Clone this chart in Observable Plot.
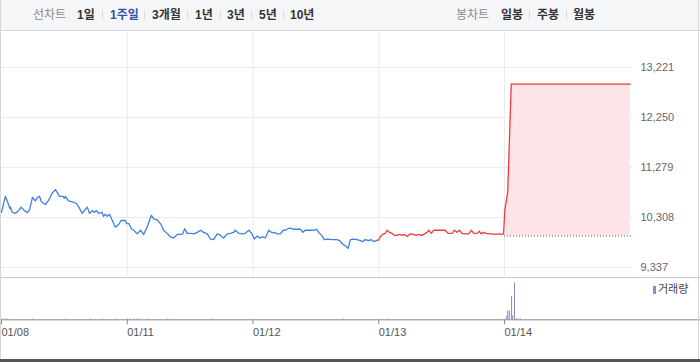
<!DOCTYPE html>
<html><head><meta charset="utf-8">
<script src="https://cdn.jsdelivr.net/npm/d3@7"></script>
<script src="https://cdn.jsdelivr.net/npm/@observablehq/plot@0.6"></script>
<style>
html,body{margin:0;padding:0;background:#fff;}
#wrap{position:relative;width:700px;height:362px;overflow:hidden;font-family:"Liberation Sans","Noto Sans CJK KR",sans-serif;}
#wrap svg{position:absolute;left:0;}
#topbar{position:absolute;left:0;top:0;width:700px;height:30px;background:#f5f6f8;border-bottom:1px solid #d9dbdf;z-index:2;}
.tb{position:absolute;top:8px;font-size:12px;line-height:14px;white-space:nowrap;color:#333;font-weight:bold;}
.tb.g{color:#8a8a8a;font-weight:normal;}
.tb.on{color:#2c4fb0;}
.sep{position:absolute;top:10px;width:1px;height:10px;background:#dcdcdc;}
#legend{position:absolute;left:653px;top:283px;font-size:11px;color:#444;line-height:13px;white-space:nowrap;z-index:3;}
#legend i{display:inline-block;width:3px;height:8px;background:#9a86d0;margin-right:2px;vertical-align:-1px;}
.edge{position:absolute;background:#d6d6d6;z-index:4;}
</style></head>
<body><div id="wrap"></div>
<script>
// ---- data ----
const days = ["01/08", "01/11", "01/12", "01/13", "01/14"];
const yTicks = [9337, 10308, 11279, 12250, 13221];
const prevClose = 9950;
const lineChartLabels = ["1일", "1주일", "3개월", "1년", "3년", "5년", "10년"];
const candleChartLabels = ["일봉", "주봉", "월봉"];
// [minutes after 09:00, price]
const d0108 = [[0,10410],[12,10720],[19,10610],[26,10480],[28,10510],[33,10410],[43,10390],[53,10440],[61,10510],[68,10460],[80,10400],[87,10460],[96,10700],[105,10630],[112,10700],[118,10720],[124,10610],[136,10560],[146,10640],[157,10780],[167,10850],[174,10780],[180,10720],[191,10720],[195,10680],[198,10720],[208,10630],[219,10610],[233,10580],[239,10520],[250,10390],[257,10440],[266,10510],[273,10390],[282,10440],[288,10410],[294,10440],[302,10390],[312,10410],[316,10330],[322,10370],[328,10330],[335,10370],[341,10290],[353,10120],[363,10170],[371,10250],[384,10250],[389,10190]];
const d0111 = [[5,10190],[13,10090],[20,10060],[31,9990],[41,10060],[51,9980],[62,10130],[69,10250],[75,10350],[82,10280],[93,10260],[103,10190],[113,10060],[127,9980],[134,9930],[144,9910],[155,9980],[165,9980],[172,9990],[178,10090],[186,10000],[196,10000],[206,9990],[217,10020],[227,10060],[237,10020],[248,9990],[258,9890],[268,9880],[279,9990],[289,9960],[299,9910],[310,9990],[320,10000],[330,10020],[335,10060],[346,10000],[356,9990],[366,10000],[377,10060],[387,9990]];
const d0112 = [[4,9890],[13,9950],[21,9910],[31,9930],[38,9910],[49,10060],[59,10010],[66,10020],[75,9990],[85,9990],[93,10060],[100,10060],[108,10090],[116,10100],[124,10080],[137,10080],[147,10080],[155,10020],[162,10060],[178,10060],[188,10060],[197,10080],[204,10020],[214,9950],[221,9880],[232,9890],[245,9880],[261,9880],[269,9860],[276,9800],[286,9760],[295,9710],[302,9880],[312,9890],[323,9880],[333,9860],[341,9840],[348,9880],[359,9860],[366,9880],[374,9840],[382,9860],[387,9870]];
const d0113 = [[0,9870],[5,9940],[12,9980],[20,10000],[26,10060],[33,10020],[41,10000],[49,9960],[57,9960],[64,9980],[72,9960],[80,9980],[88,9940],[98,9990],[108,9980],[116,9960],[124,9980],[134,9960],[142,9990],[150,10020],[155,10060],[163,10000],[170,10060],[186,10060],[206,10060],[215,10000],[227,10000],[235,10060],[243,10020],[250,10060],[258,10000],[268,9990],[279,9990],[287,10060],[295,10000],[305,10000],[312,10040],[318,9990],[325,10020],[333,10000],[341,9990],[351,9990],[361,9980],[374,9990],[382,9980],[387,9990]];
const d0114 = [[1,10450],[10,10800],[21,12900],[390,12900]];
// volume: [day index, minutes after 09:00, volume]
const volumes = [[0,3,30],[0,10,30],[0,18,30],[0,96,30],[0,198,30],[0,276,30],[0,313,30],[0,353,30],
  [1,1,30],[1,10,30],[1,20,30],[1,30,30],[1,40,30],[1,63,30],[1,125,30],[1,143,30],[1,258,30],[1,267,30],
  [2,280,30],[3,30,30],
  [4,6,120],[4,10,360],[4,15,360],[4,22,960],[4,25,160],[4,31,1500],[4,37,40],[4,42,40],[4,49,40]];

// ---- build ----
const toRows = (arr, di) => arr.map(([m, p]) => ({x: di + m / 390, p}));
const blueRows = [...toRows(d0108, 0), ...toRows(d0111, 1), ...toRows(d0112, 2)];
const day14Rows = toRows(d0114, 4);
const redRows = [blueRows[blueRows.length - 1], ...toRows(d0113, 3), ...day14Rows];
const volRows = volumes.map(([d, m, v]) => ({x: d + m / 390, v}));
const BLUE = "#3f7fe3", RED = "#f23a3f", PURPLE = "#9482cc";
const wrap = document.getElementById("wrap");

const priceChart = Plot.plot({
  width: 700, height: 276, marginTop: 31, marginBottom: 0, marginLeft: 0, marginRight: 68,
  style: {background: "transparent", fontFamily: "Liberation Sans, sans-serif", fontSize: "11px", overflow: "visible"},
  x: {domain: [0, 5], range: [1, 629.75], axis: null},
  y: {domain: [9337, 13221], range: [267, 67], label: null},
  marks: [
    Plot.ruleY(yTicks, {stroke: "#ebebeb"}),
    Plot.ruleX([1, 2, 3, 4], {stroke: "#ebebeb"}),
    Plot.areaY(day14Rows, {x: "x", y1: prevClose, y2: "p", fill: "#fde4e6"}),
    Plot.ruleY([prevClose], {x1: 4, x2: 5.01, stroke: "#555", strokeDasharray: "1,2"}),
    Plot.line(blueRows, {x: "x", y: "p", stroke: BLUE, strokeWidth: 1.3}),
    Plot.line(redRows, {x: "x", y: "p", stroke: RED, strokeWidth: 1.3}),
    Plot.axisY(yTicks, {anchor: "right", tickSize: 0, tickPadding: 8, tickFormat: d3.format(","), fill: "#666", label: null})
  ]
});
priceChart.style.top = "0px";
wrap.appendChild(priceChart);

const volChart = Plot.plot({
  width: 700, height: 86, marginTop: 0, marginBottom: 42.7, marginLeft: 0, marginRight: 0,
  style: {background: "transparent", fontFamily: "Liberation Sans, sans-serif", fontSize: "11px", overflow: "visible"},
  x: {domain: [0, 5], range: [1, 629.75], label: null},
  y: {domain: [0, 1730], range: [43.3, 1], axis: null},
  marks: [
    Plot.ruleY([1730], {stroke: "#c8c8c8"}),
    Plot.ruleX(volRows, {x: "x", y1: 0, y2: "v", stroke: PURPLE}),
    Plot.ruleY([0], {stroke: "#8a8a8a"}),
    Plot.axisX([0, 1, 2, 3, 4], {tickSize: 5, tickPadding: 3, tickFormat: i => days[i], textAnchor: "start", stroke: "#8a8a8a", fill: "#555", label: null})
  ]
});
volChart.style.top = "276px";
wrap.appendChild(volChart);

// top bar
const topBar = document.createElement("div");
topBar.id = "topbar";
const addSpan = (txt, left, cls) => { const s = document.createElement("span"); s.className = "tb " + cls; s.textContent = txt; s.style.left = left + "px"; topBar.appendChild(s); };
const addSep = left => { const s = document.createElement("span"); s.className = "sep"; s.style.left = left + "px"; topBar.appendChild(s); };
addSpan("선차트", 33, "g");
const lineLeft = [77, 110, 152, 195, 227, 259, 290];
const lineSeps = [102, 144, 187, 220, 251, 283];
lineChartLabels.forEach((t, i) => addSpan(t, lineLeft[i], i === 1 ? "on" : ""));
lineSeps.forEach(addSep);
addSpan("봉차트", 456, "g");
const candleLeft = [501, 537, 573];
candleChartLabels.forEach((t, i) => addSpan(t, candleLeft[i], ""));
[529, 566].forEach(addSep);
wrap.appendChild(topBar);

// legend
const lg = document.createElement("div");
lg.id = "legend";
lg.innerHTML = "<i></i>거래량";
wrap.appendChild(lg);

// frame edges
const edge = (l, t, w, h, c) => { const e = document.createElement("div"); e.className = "edge"; Object.assign(e.style, {left: l + "px", top: t + "px", width: w + "px", height: h + "px"}); if (c) e.style.background = c; wrap.appendChild(e); };
edge(0, 0, 1, 359);
edge(698, 0, 1, 359);
edge(0, 359, 700, 3, "#555");
</script></body></html>
